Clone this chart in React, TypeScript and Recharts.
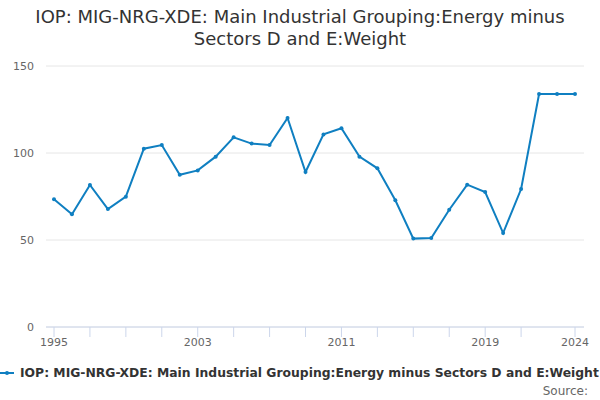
import React from "react";
import { LineChart, Line, XAxis, YAxis, CartesianGrid } from "recharts";

const years = [
  1995, 1996, 1997, 1998, 1999, 2000, 2001, 2002, 2003, 2004, 2005, 2006, 2007, 2008, 2009,
  2010, 2011, 2012, 2013, 2014, 2015, 2016, 2017, 2018, 2019, 2020, 2021, 2022, 2023, 2024,
];
const weights = [
  73.4, 64.8, 81.6, 67.8, 74.9, 102.5, 104.6, 87.5, 90.0, 97.9, 109.0, 105.4, 104.6, 120.1, 89.1,
  110.7, 114.2, 97.9, 91.2, 72.8, 50.8, 51.1, 67.4, 81.8, 77.6, 54.0, 79.3, 133.9, 133.9, 133.9,
];
const xTicks = [1995, 1997, 1999, 2001, 2003, 2005, 2007, 2009, 2011, 2013, 2015, 2017, 2019, 2021, 2024];
const xLabels = [1995, 2003, 2011, 2019, 2024];
const yTicks = [0, 50, 100, 150];
const seriesName = "IOP: MIG-NRG-XDE: Main Industrial Grouping:Energy minus Sectors D and E:Weight";
const titleLines = ["IOP: MIG-NRG-XDE: Main Industrial Grouping:Energy minus", "Sectors D and E:Weight"];

const data = years.map((y, i) => ({ year: y, value: weights[i] }));

const COLOR = "#0f7fc1";
const FONT = "'DejaVu Sans', Verdana, sans-serif";

export default function App() {
  return (
    <div
      style={{
        position: "fixed",
        left: 0,
        top: 0,
        width: 600,
        height: 400,
        background: "#fff",
        fontFamily: FONT,
        overflow: "hidden",
      }}
    >
      <div
        style={{
          position: "absolute",
          top: 6,
          left: 0,
          width: 600,
          textAlign: "center",
          fontSize: 18,
          lineHeight: "22px",
          color: "#333333",
        }}
      >
        {titleLines.map((t) => (
          <div key={t}>{t}</div>
        ))}
      </div>
      <div style={{ position: "absolute", left: 0, top: 0 }}>
        <LineChart width={600} height={400} data={data} margin={{ top: 66, right: 16, bottom: 43, left: 0 }}>
          <CartesianGrid horizontal={true} vertical={false} stroke="#e6e6e6" />
          <XAxis
            dataKey="year"
            type="number"
            domain={[1995, 2024]}
            ticks={xTicks}
            interval={0}
            padding={{ left: 8, right: 9 }}
            tickFormatter={(v: number) => (xLabels.includes(v) ? String(v) : "")}
            stroke="#ccd6eb"
            tickSize={10}
            tickMargin={1}
            height={30}
            tick={{ fill: "#666666", fontSize: 11, fontFamily: FONT }}
          />
          <YAxis
            domain={[0, 150]}
            ticks={yTicks}
            axisLine={false}
            tickLine={false}
            width={46}
            tickMargin={6}
            tick={{ fill: "#666666", fontSize: 11, fontFamily: FONT }}
          />
          <Line
            type="linear"
            dataKey="value"
            stroke={COLOR}
            strokeWidth={2}
            dot={{ r: 2, fill: COLOR, stroke: COLOR, strokeWidth: 0 }}
            activeDot={false}
            isAnimationActive={false}
          />
        </LineChart>
      </div>
      <div
        style={{
          position: "absolute",
          top: 365,
          left: 0,
          whiteSpace: "nowrap",
          display: "flex",
          alignItems: "center",
          fontSize: 12.35,
          fontWeight: "bold",
          color: "#333333",
        }}
      >
        <svg width={18} height={16} style={{ marginRight: 2 }}>
          <line x1={0} y1={8} x2={14} y2={8} stroke={COLOR} strokeWidth={2} />
          <circle cx={7} cy={8} r={2} fill={COLOR} />
        </svg>
        <span>{seriesName}</span>
      </div>
      <div
        style={{
          position: "absolute",
          top: 384,
          right: 12,
          fontSize: 12,
          color: "#666666",
        }}
      >
        Source:
      </div>
    </div>
  );
}
